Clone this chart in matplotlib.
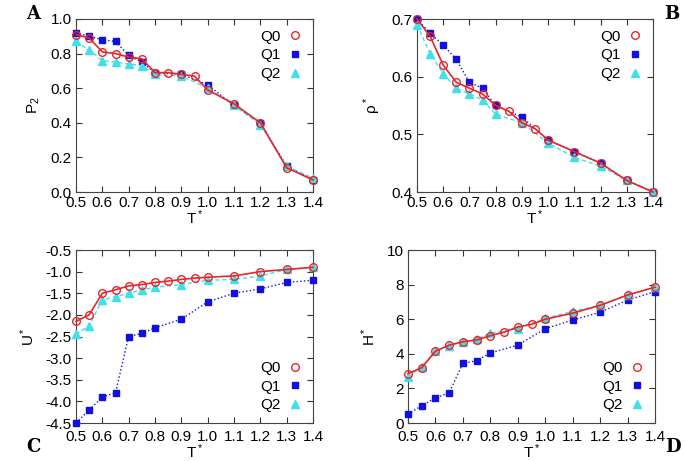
import numpy as np
import matplotlib.pyplot as plt
from matplotlib.lines import Line2D

# temperatures
T0 = [0.5, 0.55, 0.6, 0.65, 0.7, 0.75, 0.8, 0.85, 0.9, 0.95, 1.0, 1.1, 1.2, 1.3, 1.4]
T12 = [0.5, 0.55, 0.6, 0.65, 0.7, 0.75, 0.8, 0.9, 1.0, 1.1, 1.2, 1.3, 1.4]

# panel A: P2
p2_q0 = [0.91, 0.89, 0.81, 0.80, 0.78, 0.77, 0.69, 0.69, 0.68, 0.67, 0.59, 0.51, 0.40, 0.14, 0.07]
p2_q1 = [0.92, 0.90, 0.88, 0.87, 0.79, 0.75, 0.69, 0.68, 0.62, 0.50, 0.40, 0.15, 0.07]
p2_q2 = [0.87, 0.82, 0.76, 0.75, 0.74, 0.73, 0.68, 0.67, 0.60, 0.50, 0.39, 0.15, 0.08]

# panel B: density
rho_q0 = [0.70, 0.67, 0.62, 0.59, 0.58, 0.57, 0.55, 0.54, 0.52, 0.51, 0.49, 0.47, 0.45, 0.42, 0.40]
rho_q1 = [0.70, 0.675, 0.655, 0.63, 0.59, 0.58, 0.55, 0.53, 0.49, 0.47, 0.45, 0.42, 0.40]
rho_q2 = [0.69, 0.64, 0.605, 0.58, 0.57, 0.56, 0.535, 0.52, 0.485, 0.46, 0.445, 0.42, 0.40]

# panel C: energy
u_q0 = [-2.15, -2.0, -1.5, -1.42, -1.33, -1.3, -1.25, -1.22, -1.18, -1.15, -1.13, -1.1, -1.0, -0.95, -0.9]
u_q1 = [-4.5, -4.2, -3.9, -3.8, -2.5, -2.43, -2.3, -2.1, -1.7, -1.5, -1.4, -1.25, -1.2]
u_q2 = [-2.45, -2.25, -1.65, -1.58, -1.5, -1.42, -1.36, -1.3, -1.2, -1.18, -1.1, -0.95, -0.9]

# panel D: enthalpy
h_q0 = [2.85, 3.2, 4.15, 4.5, 4.7, 4.8, 5.05, 5.25, 5.55, 5.7, 6.0, 6.35, 6.8, 7.4, 7.85]
h_q1 = [0.5, 1.0, 1.45, 1.75, 3.45, 3.6, 4.05, 4.5, 5.45, 5.95, 6.4, 7.1, 7.6]
h_q2 = [2.65, 3.25, 4.15, 4.45, 4.7, 4.85, 5.2, 5.45, 6.05, 6.45, 6.8, 7.4, 7.85]

xticks = [0.5, 0.6, 0.7, 0.8, 0.9, 1.0, 1.1, 1.2, 1.3, 1.4]

red = '#e8262a'
blue = '#1010e0'
cyan = '#40e0e8'

plt.rcParams['font.family'] = ['Liberation Sans', 'DejaVu Sans']
plt.rcParams['mathtext.fontset'] = 'custom'
plt.rcParams['mathtext.rm'] = 'Liberation Sans'
plt.rcParams['mathtext.it'] = 'Liberation Sans'

fig = plt.figure(figsize=(6.85, 4.61), dpi=100)
W, H = 685., 461.

def make_ax(l, t, r, b):
    return fig.add_axes([l / W, 1 - b / H, (r - l) / W, (b - t) / H])

axA = make_ax(76, 19, 313, 192)
axB = make_ax(417, 19, 653, 192)
axC = make_ax(76, 250, 313, 423)
axD = make_ax(408, 250, 655, 423)

panels = [
    (axA, p2_q0, p2_q1, p2_q2, r'P$_2$', (0, 1.0), np.arange(0, 1.01, 0.2), '%.1f', 'upper right', 3),
    (axB, rho_q0, rho_q1, rho_q2, r'$\rho^*$', (0.4, 0.7), [0.4, 0.5, 0.6, 0.7], '%.1f', 'upper right', 3),
    (axC, u_q0, u_q1, u_q2, r'U$^*$', (-4.5, -0.5), np.arange(-4.5, -0.49, 0.5), '%.1f', 'lower right', 5),
    (axD, h_q0, h_q1, h_q2, r'H$^*$', (0, 10), [0, 2, 4, 6, 8, 10], '%d', 'lower right', 5),
]

for ax, q0, q1, q2, ylab, ylim, yt, fmt, loc, xpad in panels:
    ax.plot(T12, q1, color=blue, ls=':', lw=1.0, marker='s', ms=5, mfc=blue, mec=blue, zorder=3, clip_on=False)
    ax.plot(T12, q2, color=cyan, ls=(0, (3, 2)), lw=1.0, marker='^', ms=5.5, mfc=cyan, mec=cyan, zorder=4, clip_on=False)
    ax.plot(T0, q0, color=red, ls='-', lw=1.2, marker='o', ms=5.5, mfc='none', mec=red, mew=1.0, zorder=5, clip_on=False)
    ax.set_xlim(0.5, 1.4)
    ax.set_ylim(*ylim)
    ax.set_xticks(xticks)
    ax.set_yticks(yt)
    ax.set_yticklabels([fmt % v for v in yt])
    ax.tick_params(direction='in', top=True, right=True, labelsize=11, length=4, colors='#333333',
                   labelcolor='black', pad=3)
    ax.tick_params(axis='x', pad=xpad)
    for s in ax.spines.values():
        s.set_color('#444444')
        s.set_linewidth(0.8)
    ax.set_xlabel(r'T$^*$', fontsize=11, labelpad=-1)
    ax.set_ylabel(ylab, fontsize=11, labelpad=6)
    handles = [
        Line2D([], [], ls='none', marker='o', ms=5.5, mfc='none', mec=red),
        Line2D([], [], ls='none', marker='s', ms=5, color=blue),
        Line2D([], [], ls='none', marker='^', ms=5.5, color=cyan),
    ]
    ax.legend(handles, ['Q0', 'Q1', 'Q2'], loc=loc, markerfirst=False, frameon=False,
              fontsize=11, handlelength=1.0, handletextpad=0.4, labelspacing=0.3,
              borderaxespad=0.3)

for lab, x, y in [('A', 33, 14), ('B', 672, 14), ('C', 33, 447), ('D', 673, 447)]:
    fig.text(x / W, 1 - y / H, lab, family='DejaVu Serif', fontweight='bold', fontsize=13,
             ha='center', va='center')

fig.savefig('out.png', dpi=100)
